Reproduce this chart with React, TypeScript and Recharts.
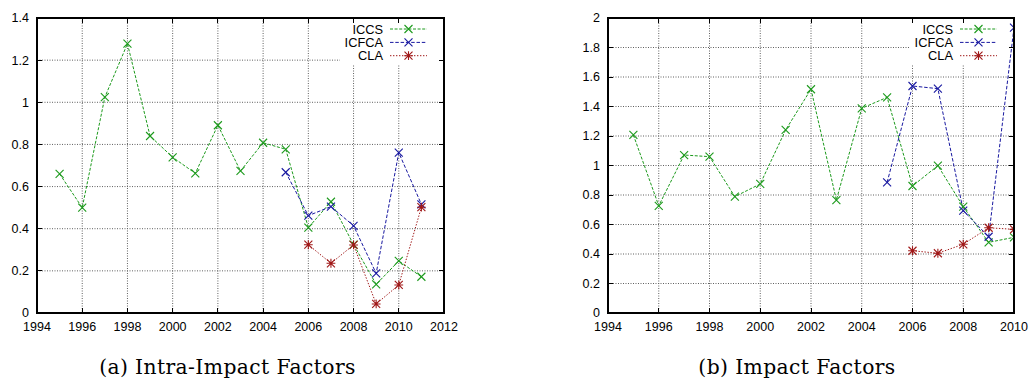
import React from "react";
import { LineChart, Line, XAxis, YAxis, CartesianGrid, Customized } from "recharts";

// ---------- data: (a) Intra-Impact Factors ----------
const yearsA = [1995, 1996, 1997, 1998, 1999, 2000, 2001, 2002, 2003, 2004, 2005, 2006, 2007, 2008, 2009, 2010, 2011];
const iccsA = [0.66, 0.5, 1.024, 1.278, 0.84, 0.739, 0.663, 0.891, 0.674, 0.808, 0.777, 0.405, 0.528, 0.325, 0.136, 0.247, 0.172];
const icfcaYearsA = [2005, 2006, 2007, 2008, 2009, 2010, 2011];
const icfcaA = [0.668, 0.462, 0.505, 0.414, 0.188, 0.761, 0.516];
const claYearsA = [2006, 2007, 2008, 2009, 2010, 2011];
const claA = [0.324, 0.236, 0.323, 0.043, 0.133, 0.502];

// ---------- data: (b) Impact Factors ----------
const yearsB = [1995, 1996, 1997, 1998, 1999, 2000, 2001, 2002, 2003, 2004, 2005, 2006, 2007, 2008, 2009, 2010];
const iccsB = [1.207, 0.727, 1.071, 1.06, 0.789, 0.875, 1.241, 1.517, 0.766, 1.388, 1.462, 0.861, 0.999, 0.721, 0.479, 0.513];
const icfcaYearsB = [2005, 2006, 2007, 2008, 2009, 2010];
const icfcaB = [0.886, 1.539, 1.521, 0.694, 0.517, 1.934];
const claYearsB = [2006, 2007, 2008, 2009, 2010];
const claB = [0.422, 0.405, 0.466, 0.578, 0.567];

// ---------- ticks ----------
const xTicksA = [1994, 1996, 1998, 2000, 2002, 2004, 2006, 2008, 2010, 2012];
const yTicksA = [0, 0.2, 0.4, 0.6, 0.8, 1, 1.2, 1.4];
const yTickLabelsA = ["0", "0.2", "0.4", "0.6", "0.8", "1", "1.2", "1.4"];
const xTicksB = [1994, 1996, 1998, 2000, 2002, 2004, 2006, 2008, 2010];
const yTicksB = [0, 0.2, 0.4, 0.6, 0.8, 1, 1.2, 1.4, 1.6, 1.8, 2];
const yTickLabelsB = ["0", "0.2", "0.4", "0.6", "0.8", "1", "1.2", "1.4", "1.6", "1.8", "2"];

const seriesNames = ["ICCS", "ICFCA", "CLA"];
const captionA = "(a) Intra-Impact Factors";
const captionB = "(b) Impact Factors";

// ---------- styles ----------
const GREEN = "#1c9a1c";
const BLUE = "#1818a0";
const RED = "#a01818";
const DASH = ["3 1.6", "3.5 1.8", "1.4 1.6"];
const COLORS = [GREEN, BLUE, RED];
const TICK_FONT = "'Liberation Sans', Arial, Helvetica, sans-serif";

type Row = { year: number; iccs: number | null; icfca: number | null; cla: number | null };

function buildTable(
  years: number[],
  iccs: number[],
  icfcaYears: number[],
  icfca: number[],
  claYears: number[],
  cla: number[]
): Row[] {
  return years.map((y, i) => {
    const fi = icfcaYears.indexOf(y);
    const ci = claYears.indexOf(y);
    return {
      year: y,
      iccs: iccs[i],
      icfca: fi >= 0 ? icfca[fi] : null,
      cla: ci >= 0 ? cla[ci] : null,
    };
  });
}

const dataA = buildTable(yearsA, iccsA, icfcaYearsA, icfcaA, claYearsA, claA);
const dataB = buildTable(yearsB, iccsB, icfcaYearsB, icfcaB, claYearsB, claB);

// ---------- markers ----------
function crossPath(cx: number, cy: number, r: number) {
  return `M${cx - r},${cy - r}L${cx + r},${cy + r}M${cx - r},${cy + r}L${cx + r},${cy - r}`;
}
function starPath(cx: number, cy: number, r: number) {
  const d = r * 1.1;
  return crossPath(cx, cy, r) + `M${cx - d},${cy}L${cx + d},${cy}M${cx},${cy - d}L${cx},${cy + d}`;
}
function markerPath(kind: number, cx: number, cy: number) {
  return kind === 2 ? starPath(cx, cy, 4) : crossPath(cx, cy, 4);
}

const makeDot = (kind: number, color: string) => (p: any) => {
  const { cx, cy, index } = p;
  if (cx == null || cy == null || isNaN(cx) || isNaN(cy) || p.value == null || (Array.isArray(p.value) && p.value[1] == null)) {
    return <g key={`e${index}`} />;
  }
  return <path key={`d${index}`} d={markerPath(kind, cx, cy)} stroke={color} strokeWidth={1.1} fill="none" />;
};

// ---------- layout constants ----------
const CH = 340;
const TOP = 18;
const XAXIS_H = 27;
const PLOT_H = CH - TOP - XAXIS_H;
const RIGHT_M = 16;

type Geo = { left: number; width: number; yw: number };
const geoA: Geo = { left: 0, width: 460, yw: 37 };
const geoB: Geo = { left: 560, width: 470, yw: 48 };

const XTick = (props: any) => {
  const { x, y, payload } = props;
  return (
    <text x={x} y={y + 18} textAnchor="middle" fontFamily={TICK_FONT} fontSize={12.5} fill="#000">
      {payload.value}
    </text>
  );
};

const makeYTick = (labels: string[], ticks: number[]) => (props: any) => {
  const { x, y, payload } = props;
  const idx = ticks.indexOf(payload.value);
  return (
    <text x={x - 8} y={y + 4.4} textAnchor="end" fontFamily={TICK_FONT} fontSize={12.5} fill="#000">
      {idx >= 0 ? labels[idx] : String(payload.value)}
    </text>
  );
};

const LegendLayer = ({ g }: { g: Geo }) => {
  const right = g.width - RIGHT_M;
  const rows = [29, 42.4, 55.7];
  return (
    <g>
      <rect x={right - 104} y={TOP + 1} width={103} height={46} fill="#ffffff" stroke="none" />
      {seriesNames.map((n, i) => (
        <g key={n}>
          <text
            x={right - 61}
            y={rows[i] + 4.5}
            textAnchor="end"
            fontFamily={TICK_FONT}
            fontSize={12.8}
            fill="#000"
          >
            {n}
          </text>
          <line
            x1={right - 54}
            x2={right - 17}
            y1={rows[i]}
            y2={rows[i]}
            stroke={COLORS[i]}
            strokeWidth={1}
            strokeDasharray={DASH[i]}
          />
          <path d={markerPath(i, right - 35.5, rows[i])} stroke={COLORS[i]} strokeWidth={1.1} fill="none" />
        </g>
      ))}
    </g>
  );
};

// Border and inward tick marks (gnuplot style) for one panel, in page coordinates.
function Border({ g, xTicks, yTicks, yMax }: { g: Geo; xTicks: number[]; yTicks: number[]; yMax: number }) {
  const left = g.left + g.yw;
  const right = g.left + g.width - RIGHT_M;
  const bottom = TOP + PLOT_H;
  const x0 = xTicks[0];
  const x1 = xTicks[xTicks.length - 1];
  const px = (v: number) => left + ((v - x0) / (x1 - x0)) * (right - left);
  const py = (v: number) => bottom - (v / yMax) * PLOT_H;
  const segs: string[] = [];
  xTicks.forEach((v) => {
    const x = px(v);
    segs.push(`M${x},${bottom}L${x},${bottom - 5}`);
    segs.push(`M${x},${TOP}L${x},${TOP + 5}`);
  });
  yTicks.forEach((v) => {
    const y = py(v);
    segs.push(`M${left},${y}L${left + 5},${y}`);
    segs.push(`M${right - 5},${y}L${right},${y}`);
  });
  return (
    <g>
      <path d={segs.join("")} stroke="#000000" strokeWidth={1} fill="none" shapeRendering="crispEdges" />
      <path
        d={`M${left},${TOP}L${right},${TOP}L${right},${bottom}L${left},${bottom}Z`}
        stroke="#000000"
        strokeWidth={2}
        fill="none"
        shapeRendering="crispEdges"
      />
    </g>
  );
}

function Panel({
  g,
  data,
  xTicks,
  yTicks,
  yLabels,
  yMax,
}: {
  g: Geo;
  data: Row[];
  xTicks: number[];
  yTicks: number[];
  yLabels: string[];
  yMax: number;
}) {
  return (
    <LineChart width={g.width} height={CH} data={data} margin={{ top: TOP, right: RIGHT_M, left: 0, bottom: 0 }}>
      <CartesianGrid stroke="#606060" strokeDasharray="1 1.5" strokeWidth={1} />
      <Customized component={() => <LegendLayer g={g} />} />
      <XAxis
        dataKey="year"
        type="number"
        domain={[xTicks[0], xTicks[xTicks.length - 1]]}
        ticks={xTicks}
        interval={0}
        height={XAXIS_H}
        tickSize={0}
        tickMargin={0}
        tickLine={false}
        axisLine={{ stroke: "#000", strokeWidth: 2 }}
        tick={XTick}
        allowDataOverflow
      />
      <YAxis
        type="number"
        domain={[0, yMax]}
        ticks={yTicks}
        interval={0}
        width={g.yw}
        tickSize={0}
        tickMargin={0}
        tickLine={false}
        axisLine={{ stroke: "#000", strokeWidth: 2 }}
        tick={makeYTick(yLabels, yTicks)}
        allowDataOverflow
      />
      <Line
        type="linear"
        dataKey="iccs"
        stroke={GREEN}
        strokeWidth={1}
        strokeDasharray={DASH[0]}
        dot={makeDot(0, GREEN)}
        activeDot={false}
        isAnimationActive={false}
      />
      <Line
        type="linear"
        dataKey="icfca"
        stroke={BLUE}
        strokeWidth={1}
        strokeDasharray={DASH[1]}
        dot={makeDot(1, BLUE)}
        activeDot={false}
        isAnimationActive={false}
      />
      <Line
        type="linear"
        dataKey="cla"
        stroke={RED}
        strokeWidth={1}
        strokeDasharray={DASH[2]}
        dot={makeDot(2, RED)}
        activeDot={false}
        isAnimationActive={false}
      />
    </LineChart>
  );
}

export default function App() {
  return (
    <div style={{ position: "absolute", left: 0, top: 0, width: 1030, height: 381, background: "#fff", overflow: "hidden" }}>
      <div style={{ position: "absolute", left: geoA.left, top: 0 }}>
        <Panel g={geoA} data={dataA} xTicks={xTicksA} yTicks={yTicksA} yLabels={yTickLabelsA} yMax={1.4} />
      </div>
      <div style={{ position: "absolute", left: geoB.left, top: 0 }}>
        <Panel g={geoB} data={dataB} xTicks={xTicksB} yTicks={yTicksB} yLabels={yTickLabelsB} yMax={2} />
      </div>
      <svg style={{ position: "absolute", left: 0, top: 0, pointerEvents: "none" }} width={1030} height={381}>
        <Border g={geoA} xTicks={xTicksA} yTicks={yTicksA} yMax={1.4} />
        <Border g={geoB} xTicks={xTicksB} yTicks={yTicksB} yMax={2} />
        <text x={227.5} y={374} textAnchor="middle" fontFamily="'DejaVu Serif', serif" fontSize={20.3} letterSpacing={0.4} fill="#000">
          {captionA}
        </text>
        <text x={797} y={374} textAnchor="middle" fontFamily="'DejaVu Serif', serif" fontSize={20.3} letterSpacing={0.4} fill="#000">
          {captionB}
        </text>
      </svg>
    </div>
  );
}
